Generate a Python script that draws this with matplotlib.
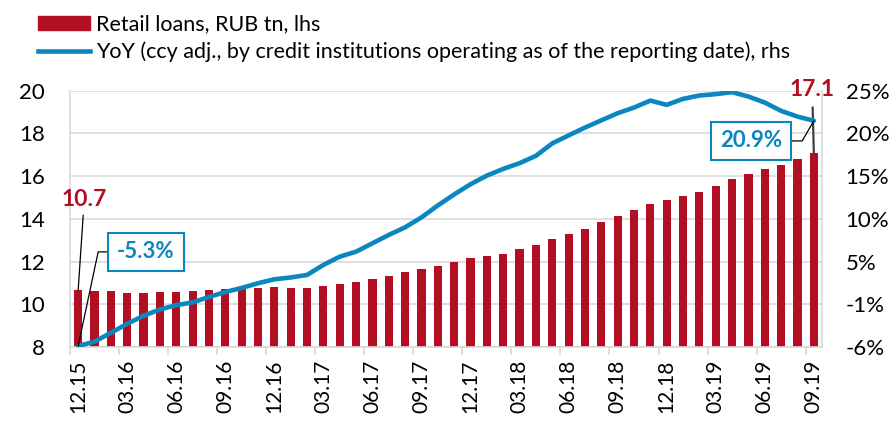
import matplotlib.pyplot as plt
import numpy as np
from matplotlib.patches import Patch
from matplotlib.lines import Line2D

plt.rcParams['font.family'] = ['Lato', 'DejaVu Sans']

# Retail loans, RUB tn (monthly, 12.15 .. 09.19)
loans = [10.67, 10.61, 10.60, 10.55, 10.55, 10.57, 10.57, 10.61, 10.67, 10.72,
         10.73, 10.78, 10.80, 10.75, 10.78, 10.86, 10.95, 11.04, 11.17, 11.31,
         11.50, 11.65, 11.79, 11.98, 12.15, 12.25, 12.36, 12.58, 12.79, 13.04,
         13.29, 13.54, 13.87, 14.15, 14.40, 14.71, 14.90, 15.07, 15.26, 15.53,
         15.85, 16.09, 16.32, 16.51, 16.82, 17.10]
# YoY growth, %
yoy = [-5.3, -4.8, -3.77, -2.72, -1.79, -1.05, -0.55, -0.23, 0.40, 0.98,
       1.45, 2.0, 2.46, 2.67, 2.96, 4.13, 5.09, 5.67, 6.65, 7.62,
       8.51, 9.66, 11.05, 12.33, 13.52, 14.52, 15.30, 15.97, 16.82, 18.27,
       19.2, 20.11, 20.95, 21.78, 22.44, 23.25, 22.75, 23.45, 23.84, 24.0,
       24.23, 23.72, 23.02, 22.05, 21.39, 20.9]
tick_labels = ['12.15', '03.16', '06.16', '09.16', '12.16', '03.17', '06.17', '09.17',
               '12.17', '03.18', '06.18', '09.18', '12.18', '03.19', '06.19', '09.19']
left_ticks = [8, 10, 12, 14, 16, 18, 20]
right_labels = ['-6%', '-1%', '5%', '10%', '15%', '20%', '25%']

red = '#B30F22'
blue = '#0A87BE'
grid = '#D9D9D9'

x = np.arange(len(loans))

fig = plt.figure(figsize=(8.93, 4.21), dpi=100)
ax = fig.add_axes([70 / 893, 74 / 421, 752 / 893, 256.3 / 421])
ax.bar(x, loans, width=0.5, color=red, zorder=2)
ax.set_ylim(8, 20)
ax.set_xlim(-0.5, len(loans) - 0.5)
ax.set_yticks(left_ticks)
ax.yaxis.grid(True, color=grid, lw=1.2, zorder=0)
ax.set_axisbelow(True)
ax.tick_params(axis='y', length=0, pad=18, labelsize=16)

# category boundary ticks, labels at bar centres
ax.set_xticks(np.arange(0, len(loans), 3) - 0.5)
ax.set_xticklabels([])
ax.tick_params(axis='x', which='major', length=6, color=grid, width=1.2)
ax.set_xticks(np.arange(0, len(loans), 3), minor=True)
ax.set_xticklabels(tick_labels, minor=True, rotation=90)
ax.tick_params(axis='x', which='minor', length=0, pad=9, labelsize=15)

for s in ['left', 'right', 'bottom']:
    ax.spines[s].set_color(grid)
    ax.spines[s].set_linewidth(1.2)
ax.spines['top'].set_visible(False)

ax2 = ax.twinx()
lo, hi = -5.42, 24.4
ax2.plot(x, yoy, color=blue, lw=3.3, solid_capstyle='round', zorder=3)
ax2.set_ylim(lo, hi)
ax2.set_yticks(np.linspace(lo, hi, 7))
ax2.set_yticklabels(right_labels)
ax2.tick_params(axis='y', length=0, pad=17, labelsize=16)
for s in ax2.spines.values():
    s.set_visible(False)

# annotations
ax.annotate(f'{loans[0]:.1f}', xy=(0, loans[0]), xytext=(0.019, 0.577),
            textcoords='axes fraction', ha='center', va='center',
            fontsize=16.5, fontweight='bold', color=red, annotation_clip=False,
            arrowprops=dict(arrowstyle='-', color='black', lw=0.9, shrinkA=2, shrinkB=0))
ax.annotate(f'{loans[-1]:.1f}', xy=(x[-1], loans[-1]), xytext=(0.987, 1.003),
            textcoords='axes fraction', ha='center', va='center',
            fontsize=16.5, fontweight='bold', color=red, annotation_clip=False,
            arrowprops=dict(arrowstyle='-', color='#404040', lw=1.6, shrinkA=3, shrinkB=0))
box = dict(boxstyle='square,pad=0.4', fc='white', ec=blue, lw=1.5)
ax2.annotate(f'{yoy[0]:.1f}%', xy=(0, yoy[0]), xytext=(0.101, 0.371),
             textcoords='axes fraction', ha='center', va='center',
             fontsize=16, fontweight='bold', color=blue, bbox=box, annotation_clip=False,
             arrowprops=dict(arrowstyle='-', color='black', lw=0.9, shrinkA=0, shrinkB=0,
                             connectionstyle='angle,angleA=0,angleB=78,rad=0'))
ax2.annotate(f'{yoy[-1]:.1f}%', xy=(x[-1], yoy[-1]), xytext=(0.906, 0.804),
             textcoords='axes fraction', ha='center', va='center',
             fontsize=16, fontweight='bold', color=blue, bbox=box, annotation_clip=False,
             arrowprops=dict(arrowstyle='-', color='black', lw=0.9, shrinkA=0, shrinkB=0,
                             connectionstyle='angle,angleA=0,angleB=60,rad=0'))

handles = [Patch(color=red), Line2D([], [], color=blue, lw=3.3)]
labels = ['Retail loans, RUB tn, lhs',
          'YoY (ccy adj., by credit institutions operating as of the reporting date), rhs']
fig.legend(handles, labels, loc='upper left', bbox_to_anchor=(0.042, 0.966),
           frameon=False, fontsize=15.5, handlelength=2.45, handleheight=0.65,
           handletextpad=0.25, labelspacing=0.35, borderpad=0, borderaxespad=0)

fig.savefig('out.png', dpi=100)
